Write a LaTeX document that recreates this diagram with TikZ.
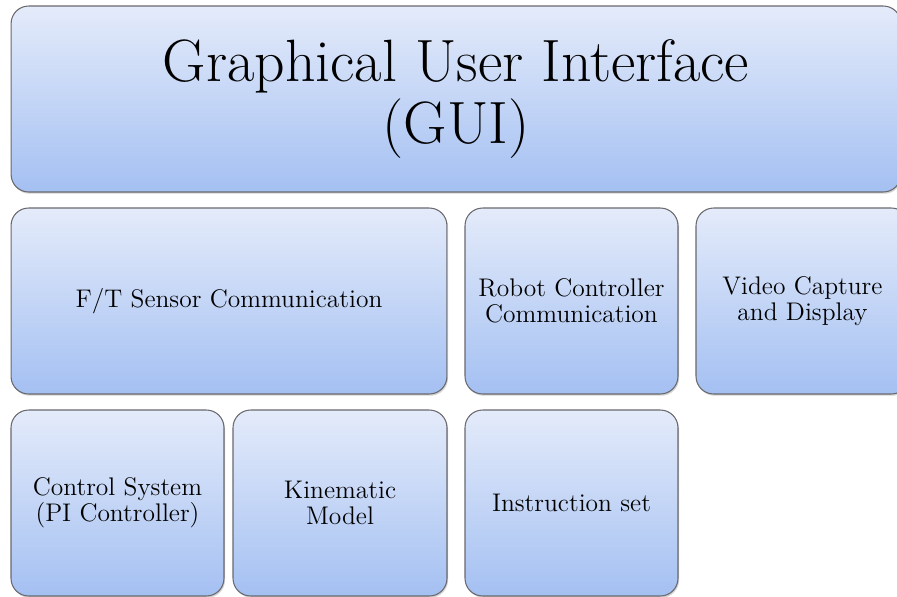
\documentclass[tikz,border=0pt]{standalone}
\usepackage{amsmath}
\usepackage{xcolor}
\usepackage{tikz}
\usetikzlibrary{shadows}

\definecolor{boxtop}{RGB}{228,235,250}
\definecolor{boxbottom}{RGB}{164,192,242}
\definecolor{boxline}{RGB}{105,105,110}

\begin{document}
\begin{tikzpicture}[x=0.02cm, y=-0.02cm,
    block/.style={draw=boxline, line width=0.6pt, rectangle, rounded corners=10pt,
        top color=boxtop, bottom color=boxbottom,
        drop shadow={shadow xshift=0.6pt, shadow yshift=-1pt, opacity=0.35},
        minimum height=3.72cm, align=center, inner sep=0pt,
        font=\fontsize{14.5}{14.8}\selectfont},
    title/.style={block, minimum width=17.8cm, font=\fontsize{34}{35}\selectfont}]
            \clip (0,0) rectangle (897,596);
            \node [title] (gui) at (456,99) {Graphical User Interface\\(GUI)};
            \node [block, minimum width=8.72cm] (ftsensor) at (229,301) {F/T Sensor Communication};
            \node [block, minimum width=4.26cm] (robot) at (571.5,301) {Robot Controller\\Communication};
            \node [block, minimum width=4.26cm] (video) at (802.5,301) {Video Capture\\and Display};
            \node [block, minimum width=4.26cm] (control) at (117.5,503) {Control System\\(PI Controller)};
            \node [block, minimum width=4.28cm] (kinematic) at (340,503) {Kinematic\\Model};
            \node [block, minimum width=4.26cm] (instruction) at (571.5,503) {Instruction set};
        \end{tikzpicture}
\end{document}
